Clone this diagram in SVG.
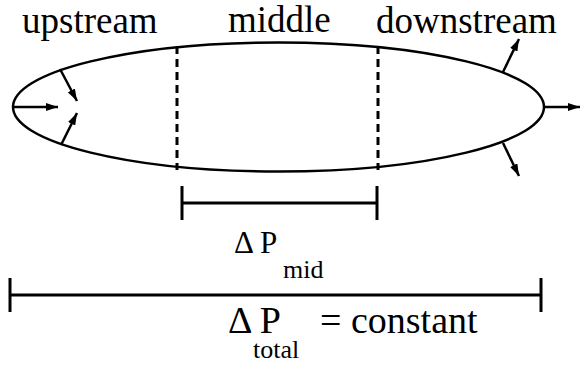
<svg xmlns="http://www.w3.org/2000/svg" width="580" height="365" viewBox="0 0 580 365">
<style>
text{font-family:'Liberation Serif','Times New Roman',Times,serif;fill:#000}
.lbl{font-size:37px}
.big{font-size:38px}
.sub{font-size:26px}
.ln{stroke:#000;stroke-width:2.5;fill:none}
.bar{stroke:#000;stroke-width:3;fill:none}
.dash{stroke:#000;stroke-width:3;stroke-dasharray:8 5;fill:none}
</style>
<defs>
<marker id="ah" viewBox="0 0 12 8" refX="12" refY="4" markerWidth="12" markerHeight="8" markerUnits="userSpaceOnUse" orient="auto">
<path d="M0,0 L12,4 L0,8 Z" fill="#000"/>
</marker>
</defs>
<rect width="580" height="365" fill="#fff"/>
<g id="vessel">
<ellipse class="ln" cx="278.5" cy="107" rx="265.5" ry="64.5"/>
<line class="dash" x1="177" y1="46" x2="177" y2="170"/>
<line class="dash" x1="378" y1="46" x2="378" y2="170"/>
</g>
<g id="labels">
<text class="lbl" x="22" y="33">upstream</text>
<text class="lbl" x="228" y="32">middle</text>
<text class="lbl" x="376" y="33">downstream</text>
</g>
<g id="connectors">
<line class="ln" x1="13" y1="107" x2="58" y2="107" marker-end="url(#ah)"/>
<line class="ln" x1="60" y1="69" x2="77" y2="101" marker-end="url(#ah)"/>
<line class="ln" x1="61" y1="145" x2="77" y2="113" marker-end="url(#ah)"/>
<line class="ln" x1="544" y1="107" x2="580" y2="107" marker-end="url(#ah)"/>
<line class="ln" x1="503" y1="72" x2="519" y2="39" marker-end="url(#ah)"/>
<line class="ln" x1="503" y1="143" x2="519" y2="176" marker-end="url(#ah)"/>
</g>
<g id="mid-bar">
<line class="bar" x1="182" y1="203" x2="377" y2="203"/>
<line class="bar" x1="182" y1="186" x2="182" y2="220"/>
<line class="bar" x1="377" y1="186" x2="377" y2="220"/>
<text x="234" y="253" font-size="31">Δ P</text>
<text class="sub" x="283" y="278">mid</text>
</g>
<g id="total-bar">
<line class="bar" x1="10" y1="295" x2="541" y2="295"/>
<line class="bar" x1="10" y1="278" x2="10" y2="312"/>
<line class="bar" x1="541" y1="278" x2="541" y2="312"/>
<text class="big" x="228" y="333">Δ P</text>
<text class="big" x="320" y="333">= constant</text>
<text class="sub" x="253" y="358">total</text>
</g>
</svg>
